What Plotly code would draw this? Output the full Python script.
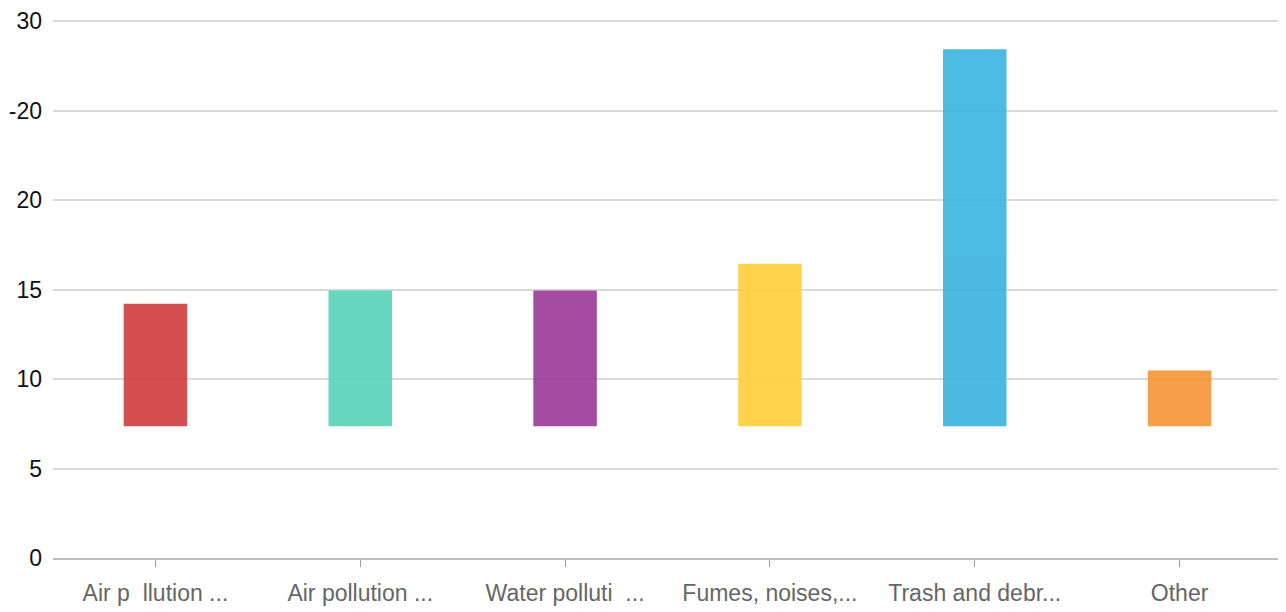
import plotly.graph_objects as go

categories = ["Air p  llution ...", "Air pollution ...", "Water polluti  ...",
              "Fumes, noises,...", "Trash and debr...", "Other"]
bar_tops = [14.22, 14.95, 14.95, 16.45, 28.44, 10.49]
bar_base = [7.36, 7.36, 7.36, 7.36, 7.36, 7.36]
colors = ["#D13F41", "#5AD5BA", "#9D3C9B", "#FFD03C", "#3EB6DF", "#F5973B"]
ytick_vals = [0, 5, 10, 15, 20, 25, 30]
ytick_text = ["0", "5", "10", "15", "20", "-20", "30"]

fig = go.Figure(go.Bar(
    x=categories,
    y=[t - b for t, b in zip(bar_tops, bar_base)],
    base=bar_base,
    marker=dict(color=colors, line=dict(width=0)),
    opacity=0.92,
    width=0.31,
))

fig.update_layout(
    width=1278, height=604,
    margin=dict(l=45, r=4, t=12, b=54),
    plot_bgcolor="white", paper_bgcolor="white",
    showlegend=False,
)
fig.update_yaxes(
    range=[0, 30.08], tickvals=ytick_vals, ticktext=ytick_text,
    showgrid=True, gridcolor="#DADADA", gridwidth=2,
    zeroline=False, showline=False, automargin=False,
    tickfont=dict(family="Liberation Sans, Arial", size=23, color="#111111"),
    ticklabelstandoff=10,
)
fig.update_xaxes(
    showline=True, linecolor="#BDBDBD", linewidth=2, automargin=False,
    ticks="outside", ticklen=7, tickcolor="#9E9E9E", tickwidth=1,
    tickfont=dict(family="Liberation Sans, Arial", size=23, color="#666666"),
    ticklabelstandoff=6,
    showgrid=False,
)

fig.write_html("out.html")
